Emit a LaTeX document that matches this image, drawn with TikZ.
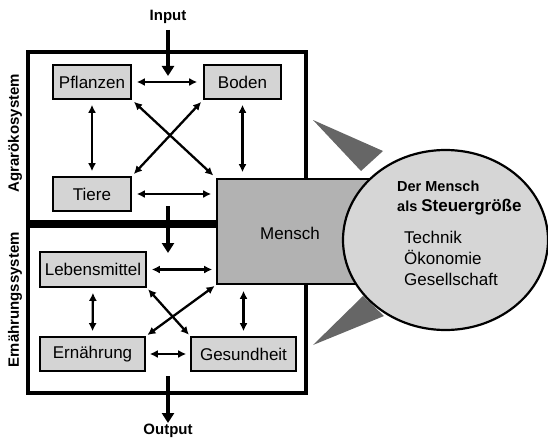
\documentclass[tikz,border=0pt]{standalone}
\usepackage{fontspec}
\setmainfont{Liberation Sans}
\usetikzlibrary{arrows.meta,shapes.geometric}
\begin{document}
\begin{tikzpicture}[x=1pt,y=-1pt]
\tikzstyle{every node}+=[inner sep=0pt]
\tikzstyle{elem}=[draw=black,line width=1.6pt,fill=black!17,minimum height=34pt,font=\fontsize{17}{20}\selectfont]
\tikzstyle{link}=[line width=2.3pt,{Latex[length=8pt,width=8pt]}-{Latex[length=8pt,width=8pt]}]
\tikzstyle{flow}=[line width=4.8pt,-{Triangle[length=10pt,width=12pt]}]
\tikzstyle{syslabel}=[rotate=90,font=\fontsize{15}{18}\selectfont\bfseries]
\useasboundingbox (0,0) rectangle (548,441);
% system frames
\draw [line width=3.2pt] (28,52) rectangle (306,222);
\draw [line width=3.2pt] (28,226) rectangle (306,393);
\node [syslabel] (agrar) at (15,133) {Agrarökosystem};
\node [syslabel] (ernsys) at (15,300) {Ernährungssystem};
% elements
\node [elem,minimum width=78pt] (pflanzen) at (92,82) {Pflanzen};
\node [elem,minimum width=77pt] (boden) at (242.5,82) {Boden};
\node [elem,minimum width=78pt] (tiere) at (92,194) {Tiere};
\node [elem,minimum width=106pt,minimum height=35pt] (lebensmittel) at (93,269.5) {Lebensmittel};
\node [elem,minimum width=105pt] (ernaehrung) at (92.5,354) {Ernährung};
\node [elem,minimum width=105pt] (gesundheit) at (243.5,354) {Gesundheit};
% in and out
\node [font=\fontsize{15}{18}\selectfont\bfseries] (input) at (168,17) {Input};
\node [font=\fontsize{15}{18}\selectfont\bfseries] (output) at (168,431) {Output};
\coordinate (inend) at (168,76);
\coordinate (midstart) at (168,206);
\coordinate (midend) at (168,253);
\coordinate (outstart) at (168,376);
\coordinate (outend) at (168,423);
\draw [flow] (168,30) -- (inend);
\draw [flow] (midstart) -- (midend);
\draw [flow] (outstart) -- (outend);
% the human
\node [draw=black,line width=1.6pt,fill=black!30,minimum width=153pt,minimum height=105pt] (mensch) at (293.5,231.5) {};
\node [font=\fontsize{17}{20}\selectfont] (menschtext) at (290,233) {Mensch};
\fill [black!60] (313,120) -- (383,151) -- (361,171) -- cycle;
\fill [black!60] (313,345) -- (384,316) -- (363,296) -- cycle;
\node [ellipse,draw=black,line width=2.2pt,fill=black!16,minimum width=205pt,minimum height=180pt] (steuer) at (445.5,240) {};
\node [anchor=west,font=\fontsize{14.5}{17}\selectfont\bfseries] (dermensch) at (397,186) {Der Mensch};
\node [anchor=west,font=\fontsize{14.5}{17}\selectfont\bfseries] (steuergr) at (397,207) {als {\fontsize{17}{20}\selectfont Steuergröße}};
\node [anchor=west,align=left,font=\fontsize{17}{21}\selectfont] (bereiche) at (404,258) {Technik\\Ökonomie\\Gesellschaft};
% links agro system
\draw [link,shorten <=5pt,shorten >=6pt] (pflanzen.east) -- (boden.west);
\draw [link,shorten <=5pt,shorten >=5pt] (pflanzen.south) -- (tiere.north);
\draw [link,shorten <=5pt,shorten >=6pt] (boden.south) -- (boden.south |- mensch.north);
\draw [link,shorten <=5pt,shorten >=5pt] (tiere.east) -- (mensch.west |- tiere.east);
\draw [link,shorten <=3pt,shorten >=4pt] (pflanzen.south east) -- (mensch.north west);
\draw [link,shorten <=3pt,shorten >=3pt] (boden.south west) -- (tiere.north east);
% links nutrition system
\draw [link,shorten <=5pt,shorten >=4pt] (lebensmittel.east) -- (mensch.west |- lebensmittel.east);
\draw [link,shorten <=5pt,shorten >=5pt] (lebensmittel.south) -- (ernaehrung.north);
\draw [link,shorten <=6pt,shorten >=5pt] (gesundheit.north |- mensch.south) -- (gesundheit.north);
\draw [link,shorten <=4pt,shorten >=4pt] (ernaehrung.east) -- (gesundheit.west);
\draw [link,shorten <=2pt,shorten >=2pt] (lebensmittel.south east) -- (gesundheit.north west);
\draw [link,shorten <=2pt,shorten >=2pt] (mensch.south west) -- (ernaehrung.north east);
\end{tikzpicture}
\end{document}
